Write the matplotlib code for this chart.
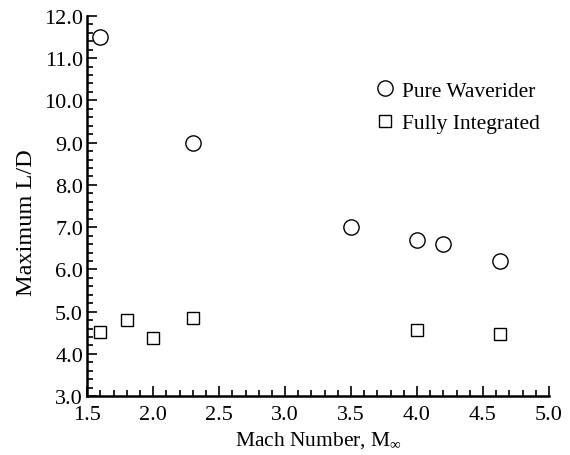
import matplotlib
matplotlib.use("Agg")
import matplotlib.pyplot as plt
from matplotlib.ticker import MultipleLocator, FormatStrFormatter

plt.rcParams['font.family'] = ['Liberation Serif', 'DejaVu Serif']
plt.rcParams['mathtext.fontset'] = 'custom'
plt.rcParams['mathtext.rm'] = 'Liberation Serif'
plt.rcParams['mathtext.it'] = 'Liberation Serif'

# data
mach_wr = [1.6, 2.3, 3.5, 4.0, 4.2, 4.63]
ld_wr = [11.5, 8.98, 7.0, 6.7, 6.6, 6.2]

mach_fi = [1.6, 1.8, 2.0, 2.3, 4.0, 4.63]
ld_fi = [4.53, 4.8, 4.38, 4.86, 4.56, 4.48]

fig = plt.figure(figsize=(5.7, 4.56), dpi=100)
ax = fig.add_axes([0.153, 0.129, 0.810, 0.834])

ax.plot(mach_wr, ld_wr, 'o', ms=11, mfc='white', mec='black', mew=1.0,
        label='Pure Waverider')
ax.plot(mach_fi, ld_fi, 's', ms=8.3, mfc='white', mec='black', mew=1.0,
        label='Fully Integrated')

ax.set_xlim(1.5, 5.0)
ax.set_ylim(3.0, 12.0)
ax.xaxis.set_major_locator(MultipleLocator(0.5))
ax.xaxis.set_minor_locator(MultipleLocator(0.1))
ax.yaxis.set_major_locator(MultipleLocator(1.0))
ax.yaxis.set_minor_locator(MultipleLocator(0.2))
ax.xaxis.set_major_formatter(FormatStrFormatter('%.1f'))
ax.yaxis.set_major_formatter(FormatStrFormatter('%.1f'))

for s in ['top', 'right']:
    ax.spines[s].set_visible(False)
for s in ['left', 'bottom']:
    ax.spines[s].set_linewidth(1.8)

ax.tick_params(which='both', direction='in', labelsize=16, width=1.2)
ax.tick_params(which='major', length=7)
ax.tick_params(which='minor', length=4)
ax.tick_params(axis='x', pad=6)
ax.tick_params(axis='y', pad=3)

ax.set_xlabel(r'Mach Number, M$_{\infty}$', fontsize=15.5, labelpad=4)
ax.set_ylabel('Maximum L/D', fontsize=17.5, labelpad=5, y=0.458)

ax.legend(loc='upper left', bbox_to_anchor=(0.656, 0.821),
          bbox_transform=fig.transFigure, frameon=False, fontsize=15.5,
          handlelength=1.0, handletextpad=0.3, labelspacing=0.58,
          borderpad=0, borderaxespad=0)

fig.savefig('out.png', dpi=100)
